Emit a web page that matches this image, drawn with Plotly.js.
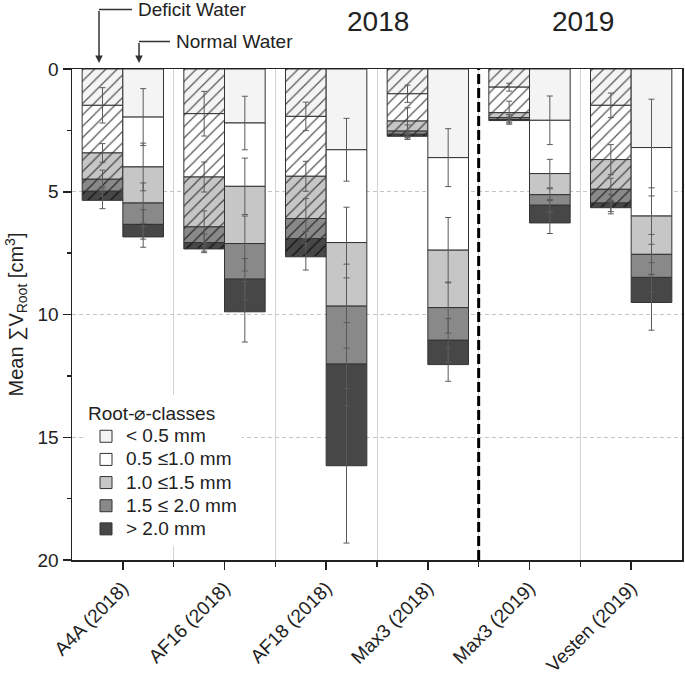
<!DOCTYPE html>
<html><head><meta charset="utf-8">
<script src="https://cdn.plot.ly/plotly-3.0.1.min.js"></script>
<style>html,body{margin:0;padding:0;background:#fff}</style>
</head><body><div id="chart" style="width:685px;height:682px"></div>
<script>
const categories = ["A4A (2018)","AF16 (2018)","AF18 (2018)","Max3 (2018)","Max3 (2019)","Vesten (2019)"];
const classes = ["< 0.5 mm","0.5 ≤1.0 mm","1.0 ≤1.5 mm","1.5 ≤ 2.0 mm","> 2.0 mm"];

// Deficit water: mean root volume per diameter class (cm³)
const deficitLt05   = [1.48,1.82,1.93,1.01,0.74,1.48];
const deficit05to10 = [1.94,2.58,2.44,1.11,1.04,2.21];
const deficit10to15 = [1.07,2.03,1.72,0.41,0.20,1.21];
const deficit15to20 = [0.49,0.64,0.82,0.13,0.08,0.56];
const deficitGt20   = [0.37,0.26,0.74,0.08,0.04,0.19];
// Deficit water: error (±) at each cumulative class boundary
const deficitErrLt05   = [0.72,0.91,0.58,0.35,0.16,0.50];
const deficitErr05to10 = [0.38,0.61,0.61,0.54,0.47,0.61];
const deficitErr10to15 = [0.37,0.65,0.81,0.25,0.12,0.45];
const deficitErr15to20 = [0.20,0.35,0.30,0.15,0.10,0.35];
const deficitErrGt20   = [0.34,0.15,0.54,0.13,0.10,0.25];

// Normal water
const normalLt05   = [1.96,2.20,3.29,3.61,2.09,3.20];
const normal05to10 = [2.03,2.58,3.78,3.77,2.17,2.79];
const normal10to15 = [1.47,2.33,2.59,2.34,0.86,1.56];
const normal15to20 = [0.87,1.45,2.36,1.33,0.43,0.94];
const normalGt20   = [0.51,1.33,4.14,0.99,0.72,1.02];
const normalErrLt05   = [1.16,1.09,1.28,1.18,0.99,1.97];
const normalErr05to10 = [0.97,1.15,1.44,1.33,0.58,1.15];
const normalErr10to15 = [0.82,1.12,1.71,1.04,0.24,0.81];
const normalErr15to20 = [0.60,0.84,1.69,0.88,0.24,0.60];
const normalErrGt20   = [0.42,1.23,3.15,0.68,0.43,1.13];

const yearLabels = ["2018","2019"];

const deficit = [deficitLt05,deficit05to10,deficit10to15,deficit15to20,deficitGt20];
const deficitErr = [deficitErrLt05,deficitErr05to10,deficitErr10to15,deficitErr15to20,deficitErrGt20];
const normal = [normalLt05,normal05to10,normal10to15,normal15to20,normalGt20];
const normalErr = [normalErrLt05,normalErr05to10,normalErr10to15,normalErr15to20,normalErrGt20];

const fills = ['#f4f4f4','#ffffff','#c6c6c6','#898989','#474747'];
const hatch = ['#555','#555','#444','#2a2a2a','#111'];
const xIdx = categories.map((_, i) => i);

function cumBases(segs){
  const bases = []; let run = categories.map(() => 0);
  segs.forEach(s => { bases.push(run.slice()); run = run.map((v,i) => v + s[i]); });
  return bases;
}
const dBase = cumBases(deficit), nBase = cumBases(normal);

const traces = [];
classes.forEach((c,k) => {
  traces.push({type:'bar', x:xIdx, y:deficit[k], base:dBase[k], width:0.4, offset:-0.4,
    name:c, showlegend:false, hoverinfo:'skip',
    marker:{color:fills[k], line:{color:'#333', width:1},
      pattern:{shape:'/', size:8, solidity:0.15, fgcolor:hatch[k], bgcolor:fills[k]}}});
});
classes.forEach((c,k) => {
  traces.push({type:'bar', x:xIdx, y:normal[k], base:nBase[k], width:0.4, offset:0,
    name:'<span style="font-size:19px">' + c + '</span>', showlegend:true, hoverinfo:'skip',
    marker:{color:fills[k], line:{color:'#333', width:1}}});
});
// error bars drawn on top of all segments
classes.forEach((c,k) => {
  [[deficit,dBase,deficitErr,-0.4],[normal,nBase,normalErr,0]].forEach(([vals,bases,errs,off]) => {
    traces.push({type:'bar', x:xIdx, y:vals[k], base:bases[k], width:0.4, offset:off,
      showlegend:false, hoverinfo:'skip',
      marker:{color:'rgba(0,0,0,0)', line:{width:0}},
      error_y:{type:'data', array:errs[k], symmetric:true, color:'#5a5a5a', thickness:1, width:3}});
  });
});

// plot-area pixel helpers (for annotation placement)
const L=72, R=682, T=69, B=560;
const px = v => (v - L)/(R - L);
const py = v => (B - v)/(B - T);

const layout = {
  width:685, height:682,
  margin:{l:L, r:685-R, t:T, b:682-B},
  paper_bgcolor:'#fff', plot_bgcolor:'#fff',
  font:{family:'Liberation Sans, Arial, sans-serif', size:19, color:'#222'},
  barmode:'overlay',
  showlegend:true,
  legend:{x:px(86), y:py(395), xanchor:'left', yanchor:'top', bgcolor:'#fff',
    font:{size:15.5}, title:{text:'Root-⌀-classes', font:{size:19}}, traceorder:'normal'},
  xaxis:{range:[-0.5,5.5], tickmode:'array', tickvals:xIdx, ticktext:categories, tickangle:-45,
    ticks:'outside', ticklen:8, tickwidth:1.5, tickcolor:'#222',
    showline:true, linecolor:'#222', linewidth:1.5, mirror:true, showgrid:false, zeroline:false,
    minor:{tickmode:'array', tickvals:[0.5,1.5,2.5,3.5,4.5], ticks:'outside', ticklen:5,
      tickwidth:1.5, tickcolor:'#222', showgrid:true, gridcolor:'#d4d4d4', gridwidth:1}},
  yaxis:{range:[20,0], tick0:0, dtick:5, ticks:'outside', ticklen:8, tickwidth:1.5, tickcolor:'#222',
    showline:true, linecolor:'#222', linewidth:1.5, mirror:true, zeroline:false,
    showgrid:true, gridcolor:'#c4c4c4', gridwidth:1, griddash:'4px,3px',
    minor:{dtick:2.5, ticks:'outside', ticklen:4, tickwidth:1.5, tickcolor:'#222', showgrid:false},
    title:{text:'Mean ∑V<sub>Root</sub> [cm<sup>3</sup>]', font:{size:20}, standoff:8}},
  shapes:[
    {type:'line', xref:'x', yref:'paper', x0:3.5, x1:3.5, y0:0, y1:1, layer:'above',
      line:{color:'#000', width:3, dash:'10px,4px'}},
    {type:'line', xref:'paper', yref:'paper', x0:px(99), x1:px(132), y0:py(9.5), y1:py(9.5),
      line:{color:'#333', width:1.5}},
    {type:'line', xref:'paper', yref:'paper', x0:px(139), x1:px(170), y0:py(41.5), y1:py(41.5),
      line:{color:'#333', width:1.5}}
  ],
  annotations:[
    {xref:'paper', yref:'paper', x:px(99), y:py(63), ax:0, ay:-53.5, text:'', showarrow:true,
      arrowhead:2, arrowsize:1, arrowwidth:1.5, arrowcolor:'#333'},
    {xref:'paper', yref:'paper', x:px(139), y:py(63), ax:0, ay:-21.5, text:'', showarrow:true,
      arrowhead:2, arrowsize:1, arrowwidth:1.5, arrowcolor:'#333'},
    {xref:'paper', yref:'paper', x:px(136), y:py(10), xanchor:'left', yanchor:'middle',
      text:'Deficit Water', showarrow:false, font:{size:19}},
    {xref:'paper', yref:'paper', x:px(174), y:py(42), xanchor:'left', yanchor:'middle',
      text:'Normal Water', showarrow:false, font:{size:19}},
    {xref:'paper', yref:'paper', x:px(378), y:py(22), xanchor:'center', yanchor:'middle',
      text:yearLabels[0], showarrow:false, font:{size:28}},
    {xref:'paper', yref:'paper', x:px(583), y:py(22), xanchor:'center', yanchor:'middle',
      text:yearLabels[1], showarrow:false, font:{size:28}}
  ]
};

Plotly.newPlot('chart', traces, layout, {staticPlot:true, displayModeBar:false});
</script>
</body></html>
